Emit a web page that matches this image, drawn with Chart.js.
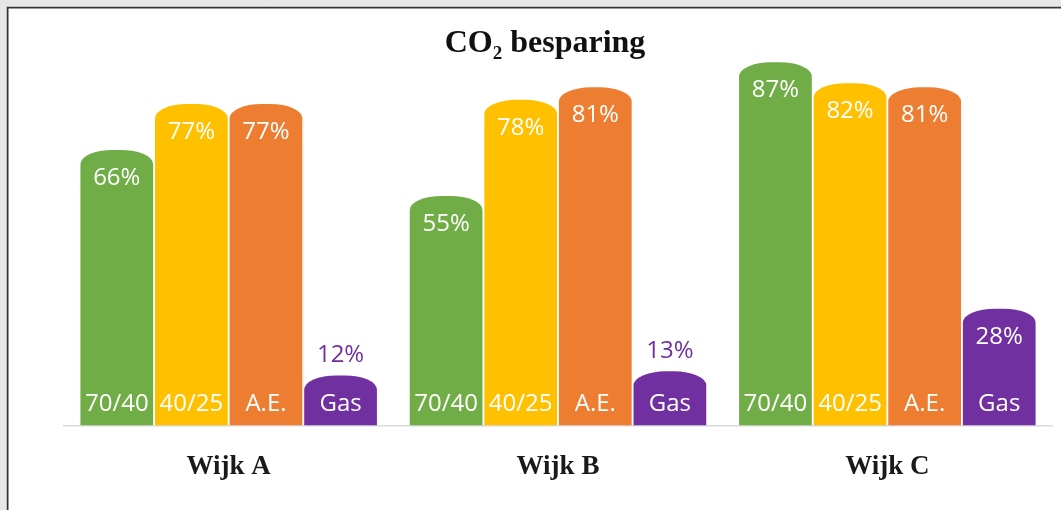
<!DOCTYPE html>
<html>
<head>
<meta charset="utf-8">
<script src="https://cdn.jsdelivr.net/npm/chart.js@4/dist/chart.umd.min.js"></script>
<style>
  html, body { margin: 0; padding: 0; background: #e7e7e9; }
  #wrap { position: absolute; left: 0; top: 0; width: 1061px; height: 510px; }
</style>
</head>
<body>
<div id="wrap"><canvas id="c" width="1061" height="510"></canvas></div>
<script>
const categories = ['Wijk A', 'Wijk B', 'Wijk C'];
const seriesNames = ['70/40', '40/25', 'A.E.', 'Gas'];
const values7040 = [66, 55, 87];
const values4025 = [77, 78, 82];
const valuesAE = [77, 81, 81];
const valuesGas = [12, 13, 28];
const seriesColors = ['#70ad47', '#ffc000', '#ed7d31', '#7030a0'];
const titleMain = 'CO';
const titleSub = '2';
const titleRest = ' besparing';

class CapBar extends Chart.BarElement {
  draw(ctx) {
    const p = this.getProps(['x', 'y', 'base', 'width'], true);
    const o = this.options;
    const l = p.x - p.width / 2, r = p.x + p.width / 2;
    const ry = Math.min(14, Math.abs(p.base - p.y));
    const rx = p.width * 0.44;
    ctx.save();
    ctx.fillStyle = o.backgroundColor;
    ctx.beginPath();
    ctx.moveTo(l, p.base);
    ctx.lineTo(l, p.y + ry);
    ctx.ellipse(l + rx, p.y + ry, rx, ry, 0, Math.PI, 1.5 * Math.PI);
    ctx.lineTo(r - rx, p.y);
    ctx.ellipse(r - rx, p.y + ry, rx, ry, 0, 1.5 * Math.PI, 2 * Math.PI);
    ctx.lineTo(r, p.base);
    ctx.closePath();
    ctx.fill();
    ctx.restore();
  }
}
CapBar.id = 'capBar';
CapBar.defaults = {};
class CapBarController extends Chart.BarController {}
CapBarController.id = 'capBar';
CapBarController.defaults = { dataElementType: 'capBar' };
Chart.register(CapBar, CapBarController);

const frame = {
  id: 'frame',
  beforeDraw(chart) {
    const ctx = chart.ctx;
    ctx.save();
    ctx.fillStyle = '#e7e7e9';
    ctx.fillRect(0, 0, chart.width, chart.height);
    ctx.fillStyle = '#ffffff';
    ctx.fillRect(8, 8, chart.width - 8, chart.height - 8);
    ctx.strokeStyle = '#bdbdbd';
    ctx.lineWidth = 1;
    ctx.beginPath();
    ctx.moveTo(6.5, chart.height); ctx.lineTo(6.5, 6.5); ctx.lineTo(chart.width, 6.5);
    ctx.stroke();
    ctx.strokeStyle = '#333333';
    ctx.lineWidth = 1.5;
    ctx.beginPath();
    ctx.moveTo(7.75, chart.height); ctx.lineTo(7.75, 7.75); ctx.lineTo(chart.width, 7.75);
    ctx.stroke();
    // title
    ctx.fillStyle = '#111111';
    ctx.textBaseline = 'alphabetic';
    const bigFont = 'bold 32px "Liberation Serif", "Times New Roman", serif';
    const subFont = 'bold 19px "Liberation Serif", "Times New Roman", serif';
    ctx.font = bigFont;
    const w1 = ctx.measureText(titleMain).width;
    const w3 = ctx.measureText(titleRest).width;
    ctx.font = subFont;
    const w2 = ctx.measureText(titleSub).width;
    const total = w1 + w2 + w3;
    let x = 545 - total / 2;
    const by = 52;
    ctx.textAlign = 'left';
    ctx.font = bigFont;
    ctx.fillText(titleMain, x, by); x += w1;
    ctx.font = subFont;
    ctx.fillText(titleSub, x, by + 7); x += w2;
    ctx.font = bigFont;
    ctx.fillText(titleRest, x, by);
    ctx.restore();
  }
};

const labels = {
  id: 'barLabels',
  afterDatasetsDraw(chart) {
    const ctx = chart.ctx;
    ctx.save();
    ctx.textAlign = 'center';
    ctx.textBaseline = 'middle';
    ctx.font = '24px "Open Sans", "Noto Sans", sans-serif';
    chart.data.datasets.forEach((ds, i) => {
      const meta = chart.getDatasetMeta(i);
      meta.data.forEach((el, j) => {
        const v = ds.data[j];
        const txt = v + '%';
        if (v >= 20) {
          ctx.fillStyle = '#ffffff';
          ctx.fillText(txt, el.x, el.y + 28);
        } else {
          ctx.fillStyle = ds.backgroundColor;
          ctx.fillText(txt, el.x, el.y - 20);
        }
        ctx.fillStyle = '#ffffff';
        ctx.fillText(ds.label, el.x, el.base - 21);
      });
    });
    ctx.restore();
  }
};

const valueSets = [values7040, values4025, valuesAE, valuesGas];
new Chart(document.getElementById('c'), {
  type: 'capBar',
  data: {
    labels: categories,
    datasets: seriesNames.map((n, i) => ({
      label: n,
      data: valueSets[i],
      backgroundColor: seriesColors[i],
      categoryPercentage: 0.906,
      barPercentage: 0.975
    }))
  },
  options: {
    responsive: false,
    animation: false,
    devicePixelRatio: 1,
    layout: { padding: { left: 64, right: 9, top: 8, bottom: 2 } },
    plugins: { legend: { display: false }, title: { display: false }, tooltip: { enabled: false } },
    scales: {
      x: {
        grid: { display: false, drawTicks: false },
        border: { display: true, color: '#d9d9d9', width: 1.5 },
        ticks: {
          padding: 25,
          color: '#1a1a1a',
          font: { family: '"Liberation Serif", "Times New Roman", serif', size: 27, weight: 'bold' }
        }
      },
      y: { display: false, min: 0, max: 100 }
    }
  },
  plugins: [frame, labels]
});
</script>
</body>
</html>
